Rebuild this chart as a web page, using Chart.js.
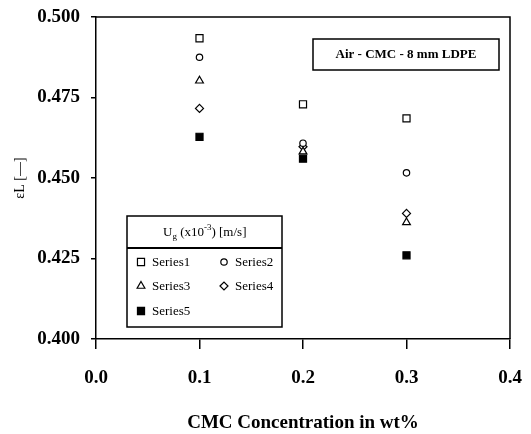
<!DOCTYPE html>
<html>
<head>
<meta charset="utf-8">
<script src="https://cdn.jsdelivr.net/npm/chart.js@4.4.1/dist/chart.umd.min.js"></script>
<style>
  html, body { margin: 0; padding: 0; background: #fff; }
  #wrap { width: 531px; height: 434px; position: relative; }
</style>
</head>
<body>
<div id="wrap"><canvas id="chart"></canvas></div>
<script>
// CMC concentration (wt%) and liquid holdup per gas velocity series
const concentrations = [0.1, 0.2, 0.3];
const series1 = [0.4934, 0.4729, 0.4685];
const series2 = [0.4875, 0.4608, 0.4516];
const series3 = [0.4802, 0.4582, 0.4362];
const series4 = [0.4716, 0.4597, 0.4390];
const series5 = [0.4628, 0.4560, 0.4260];
const seriesNames = ["Series1", "Series2", "Series3", "Series4", "Series5"];
const xTicks = [0.0, 0.1, 0.2, 0.3, 0.4];
const yTicks = [0.400, 0.425, 0.450, 0.475, 0.500];

const serif = "'Liberation Serif', 'Times New Roman', serif";

function toPoints(vals) {
    return vals.map((v, i) => ({ x: concentrations[i], y: v }));
}

const styles = [
    { pointStyle: "rect", radius: 5, fill: "#fff" },
    { pointStyle: "circle", radius: 3.2, fill: "#fff" },
    { pointStyle: "triangle", radius: 4.5, fill: "#fff" },
    { pointStyle: "rectRot", radius: 4, fill: "#fff" },
    { pointStyle: "rect", radius: 5, fill: "#000" }
];

const allSeries = [series1, series2, series3, series4, series5];
const datasets = allSeries.map((s, i) => ({
    label: seriesNames[i],
    data: toPoints(s),
    showLine: false,
    pointStyle: styles[i].pointStyle,
    pointRadius: styles[i].radius,
    pointBackgroundColor: styles[i].fill,
    pointBorderColor: "#000",
    pointBorderWidth: 1.2
}));

// frame, annotation box and boxed legend
const extras = {
    id: "extras",
    afterDraw(chart) {
        const ctx = chart.ctx;
        const a = chart.chartArea;
        ctx.save();
        ctx.strokeStyle = "#000";
        ctx.lineWidth = 1.5;
        ctx.beginPath();
        ctx.moveTo(a.left, a.top);
        ctx.lineTo(a.right, a.top);
        ctx.lineTo(a.right, a.bottom);
        ctx.stroke();

        // annotation
        ctx.lineWidth = 1.5;
        ctx.strokeRect(313, 39, 186, 31);
        ctx.fillStyle = "#000";
        ctx.font = "bold 13px " + serif;
        ctx.textAlign = "center";
        ctx.textBaseline = "middle";
        ctx.fillText("Air - CMC - 8 mm LDPE", 406, 55);

        // legend box
        ctx.strokeRect(127, 216, 155, 111);
        ctx.lineWidth = 2;
        ctx.beginPath();
        ctx.moveTo(127, 248);
        ctx.lineTo(282, 248);
        ctx.stroke();

        // legend title U_g (x10^-3) [m/s]
        ctx.textAlign = "left";
        let x = 163;
        const ty = 233;
        const parts = [
            ["U", 0, 13], ["g", 4, 9], [" (x10", 0, 13], ["-3", -5, 9], [") [m/s]", 0, 13]
        ];
        parts.forEach(p => {
            ctx.font = p[2] + "px " + serif;
            ctx.fillText(p[0], x, ty + p[1]);
            x += ctx.measureText(p[0]).width;
        });

        // legend items
        const pos = [[141, 262], [224, 262], [141, 286], [224, 286], [141, 311]];
        ctx.font = "13px " + serif;
        datasets.forEach((ds, i) => {
            const [px, py] = pos[i];
            ctx.fillStyle = ds.pointBackgroundColor;
            ctx.strokeStyle = "#000";
            ctx.lineWidth = 1.2;
            Chart.helpers.drawPoint(ctx, {
                pointStyle: ds.pointStyle,
                radius: ds.pointRadius,
                rotation: 0,
                borderWidth: 1.2
            }, px, py);
            ctx.fillStyle = "#000";
            ctx.fillText(ds.label, px + 11, py + 1);
        });
        ctx.restore();
    }
};

new Chart(document.getElementById("chart"), {
    type: "scatter",
    data: { datasets: datasets },
    options: {
        responsive: true,
        maintainAspectRatio: false,
        animation: false,
        layout: { padding: { left: 0, right: 21, top: 17, bottom: 0 } },
        plugins: {
            legend: { display: false },
            tooltip: { enabled: false }
        },
        scales: {
            x: {
                type: "linear",
                min: 0,
                max: 0.4,
                afterBuildTicks: axis => { axis.ticks = xTicks.map(v => ({ value: v })); },
                afterFit: axis => {
                    axis.height = 95;
                    axis.paddingLeft = 0;
                    axis.paddingRight = 0;
                },
                grid: { drawOnChartArea: false, color: "#000", lineWidth: 1.5, tickLength: 10 },
                border: { color: "#000", width: 1.5 },
                ticks: {
                    color: "#000",
                    padding: 18,
                    maxRotation: 0,
                    font: { family: serif, size: 19, weight: "bold" },
                    callback: v => v.toFixed(1)
                },
                title: {
                    display: true,
                    text: "CMC Concentration in wt%",
                    color: "#000",
                    font: { family: serif, size: 19, weight: "bold" },
                    padding: { top: 0, bottom: 0 }
                }
            },
            y: {
                min: 0.4,
                max: 0.5,
                afterBuildTicks: axis => { axis.ticks = yTicks.map(v => ({ value: v })); },
                afterFit: axis => {
                    axis.width = 96;
                    axis.paddingTop = 0;
                    axis.paddingBottom = 0;
                },
                grid: { drawOnChartArea: false, color: "#000", lineWidth: 1.5, tickLength: 5 },
                border: { color: "#000", width: 1.5 },
                ticks: {
                    color: "#000",
                    padding: 11,
                    font: { family: serif, size: 19, weight: "bold" },
                    callback: v => v.toFixed(3)
                },
                title: {
                    display: true,
                    text: "\u03b5L [\u2014]",
                    color: "#000",
                    font: { family: serif, size: 14 },
                    padding: { top: 12, bottom: 0 }
                }
            }
        }
    },
    plugins: [extras]
});
</script>
</body>
</html>
